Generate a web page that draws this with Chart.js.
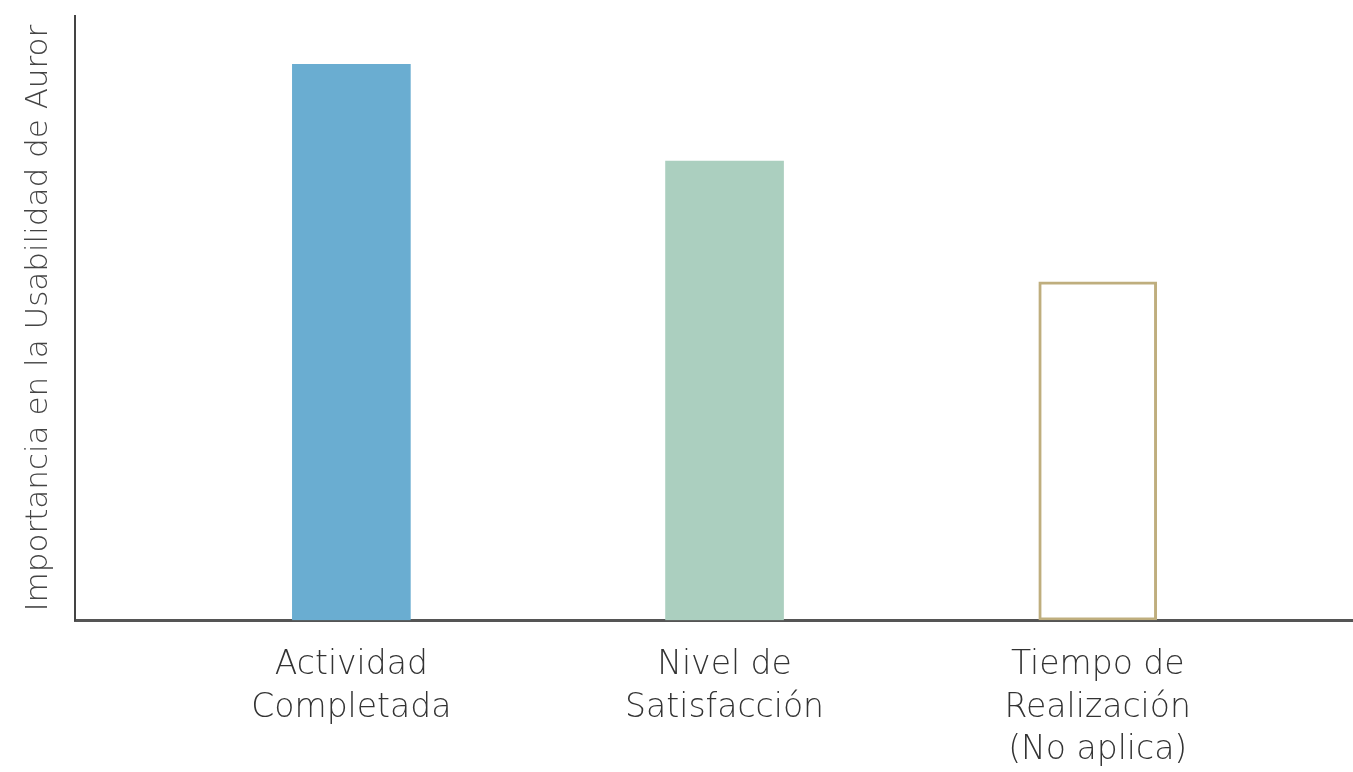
<!DOCTYPE html>
<html>
<head>
<meta charset="utf-8">
<script src="https://cdn.jsdelivr.net/npm/chart.js@4"></script>
<style>
  html, body { margin: 0; padding: 0; background: #fff; }
  #wrap { width: 1353px; height: 772px; }
</style>
</head>
<body>
<div id="wrap"><canvas id="chart"></canvas></div>
<script>
// criteria and their average importance (scale 0-5)
const categories = [
  ['Actividad', 'Completada'],
  ['Nivel de', 'Satisfacción'],
  ['Tiempo de', 'Realización', '(No aplica)']
];
const positions = [1, 2, 3];
const importance = [4.6, 3.8, 2.8];
const fillColors = ['#6aadd1', '#abcfbf', '#ffffff'];
const borderColors = ['#6aadd1', '#abcfbf', '#bfae7e'];
const axisTitle = 'Importancia en la Usabilidad de Auror';

const fontFamily = '"DejaVu Sans", Lato, sans-serif';

new Chart(document.getElementById('chart'), {
  type: 'bar',
  data: {
    datasets: [{
      data: positions.map((p, i) => ({ x: p, y: importance[i] })),
      backgroundColor: fillColors,
      borderColor: borderColors,
      borderWidth: [0, 0, 3],
      borderSkipped: false,
      barThickness: 118
    }]
  },
  options: {
    responsive: true,
    maintainAspectRatio: false,
    animation: false,
    layout: { padding: { top: 16, right: 0, left: 20, bottom: -24 } },
    plugins: { legend: { display: false }, tooltip: { enabled: false } },
    scales: {
      x: {
        type: 'linear',
        offset: false,
        min: 0.26,
        max: 3.684,
        grid: { display: false, drawTicks: false },
        border: { display: true, color: '#555', width: 3 },
        ticks: {
          stepSize: 1,
          includeBounds: false,
          autoSkip: false,
          maxRotation: 0,
          padding: 24,
          color: '#333',
          font: { family: fontFamily, size: 33, weight: 200, lineHeight: 1.29 },
          callback: (v) => {
            const i = positions.indexOf(v);
            return i >= 0 ? categories[i] : '';
          }
        }
      },
      y: {
        min: 0,
        max: 5,
        grid: { display: false, drawTicks: false },
        border: { display: true, color: '#444', width: 2 },
        ticks: { display: false },
        title: {
          display: true,
          text: axisTitle,
          color: '#444',
          font: { family: fontFamily, size: 31, weight: 200 },
          padding: { top: 0, bottom: 18 }
        }
      }
    }
  }
});
</script>
</body>
</html>
